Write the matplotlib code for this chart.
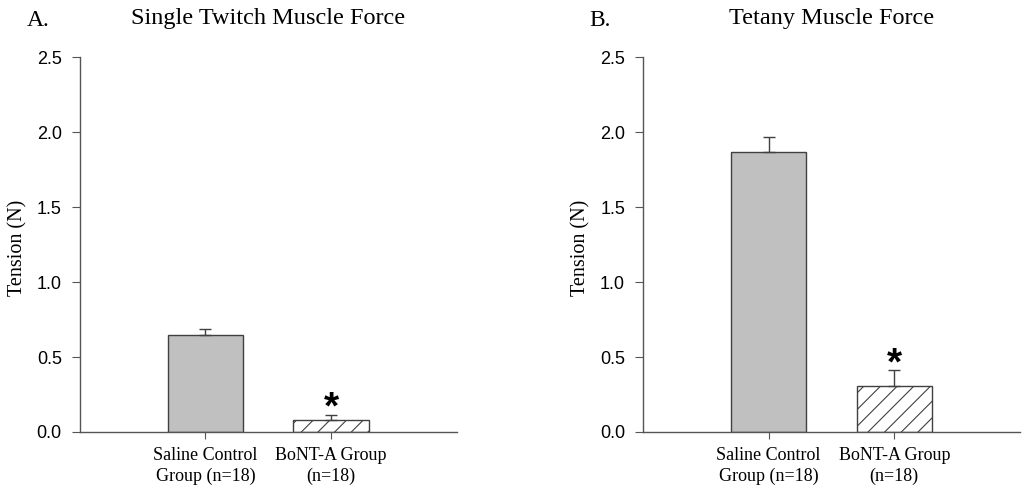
import numpy as np
import matplotlib
matplotlib.use("Agg")
import matplotlib.pyplot as plt

groups = ["Saline Control\nGroup (n=18)", "BoNT-A Group\n(n=18)"]
twitch_mean = [0.65, 0.08]
twitch_err = [0.04, 0.03]
tetany_mean = [1.867, 0.305]
tetany_err = [0.10, 0.11]
star_pos = [0.16, 0.45]

panels = [("A.", "Single Twitch Muscle Force", twitch_mean, twitch_err, star_pos[0]),
          ("B.", "Tetany Muscle Force", tetany_mean, tetany_err, star_pos[1])]

serif = "Liberation Serif"
sans = "Liberation Sans"
edge = "#404040"

plt.rcParams["hatch.linewidth"] = 0.8
plt.rcParams["hatch.color"] = "#303030"

fig = plt.figure(figsize=(10.24, 4.88), dpi=100)
lefts = [0.078, 0.628]

for (letter, title, mean, err, star), left in zip(panels, lefts):
    ax = fig.add_axes([left, 0.1148, 0.368, 0.768])
    x = np.array([1, 2])
    ax.bar(x[0], mean[0], width=0.6, color="#c0c0c0", edgecolor=edge, linewidth=1)
    ax.bar(x[1], mean[1], width=0.6, color="white", edgecolor=edge, linewidth=1,
           hatch="//")
    ax.errorbar(x, mean, yerr=[[0, 0], err], fmt="none", ecolor=edge,
                elinewidth=1, capsize=4, capthick=1)
    ax.text(x[1], star, "*", ha="center", va="center", fontsize=28,
            fontweight="bold", family=sans)

    ax.set_xlim(0, 3)
    ax.set_ylim(0, 2.5)
    ax.set_yticks(np.arange(0, 2.51, 0.5))
    ax.set_yticklabels([f"{v:.1f}" for v in np.arange(0, 2.51, 0.5)],
                       family=sans, fontsize=13)
    ax.set_xticks(x)
    ax.set_xticklabels(groups, family=serif, fontsize=13, linespacing=1.25)
    for s in ["top", "right"]:
        ax.spines[s].set_visible(False)
    for s in ["left", "bottom"]:
        ax.spines[s].set_color("#555555")
        ax.spines[s].set_linewidth(1)
    ax.tick_params(axis="y", direction="out", length=6, color="#555555", pad=7)
    ax.tick_params(axis="x", direction="out", length=5, color="#555555", pad=6)
    ax.set_ylabel("Tension (N)", family=serif, fontsize=14.5)
    ax.yaxis.set_label_coords(-0.140, 0.49)
    ax.set_title(title, family=serif, fontsize=17.5, pad=24)
    fig.text(left - 0.052, 0.958, letter, family=serif, fontsize=17,
             ha="left", va="center")

fig.savefig("out.png", dpi=100)
